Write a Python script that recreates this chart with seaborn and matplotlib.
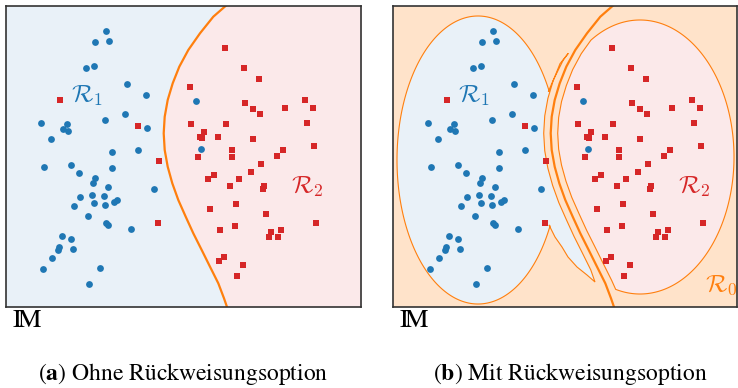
import numpy as np
import pandas as pd
import matplotlib
matplotlib.use('Agg')
import matplotlib.pyplot as plt
import seaborn as sns
from matplotlib.colors import to_rgb

# Punkte (Pixelkoordinaten im Panel, y nach unten)
blue_x = [106.0, 95.3, 108.7, 85.7, 94.3, 127.0, 145.7, 125.3, 104.7, 41.0, 66.7, 63.3,
          68.3, 146.7, 50.7, 138.3, 112.3, 43.7, 71.3, 78.7, 112.0, 95.3, 92.7, 108.0,
          154.3, 80.0, 92.3, 104.0, 74.3, 94.3, 105.3, 113.7, 117.0, 87.7, 106.0, 107.7,
          130.7, 62.3, 70.7, 58.7, 58.0, 72.7, 52.3, 42.7, 99.7, 88.7, 196.0, 201.0]
blue_y = [30.7, 41.7, 41.3, 68.3, 66.0, 84.0, 94.7, 114.3, 120.0, 122.7, 124.0, 129.3,
          131.0, 127.7, 139.3, 149.7, 151.7, 166.7, 165.0, 173.0, 168.0, 178.0, 183.0, 187.3,
          188.7, 197.0, 194.7, 196.3, 206.0, 203.3, 205.3, 202.3, 200.0, 216.3, 222.7, 224.7,
          228.7, 235.7, 239.3, 246.7, 250.0, 248.7, 258.0, 268.7, 268.3, 284.3, 101.0, 148.7]
red_x = [60.0, 137.7, 159.0, 157.7, 225.0, 244.3, 259.3, 190.0, 244.7, 253.3, 260.0, 285.3,
         304.7, 313.3, 307.3, 190.7, 225.7, 204.0, 199.7, 202.3, 217.7, 253.3, 232.3, 232.0,
         198.0, 282.7, 277.0, 314.0, 261.0, 250.7, 214.3, 208.0, 238.7, 229.7, 263.7, 262.7,
         236.3, 210.0, 266.3, 315.7, 220.0, 235.0, 270.7, 281.0, 269.3, 278.0, 224.0, 219.0,
         243.0, 237.3]
red_y = [100.0, 126.0, 160.7, 223.0, 48.3, 67.7, 79.3, 86.7, 102.7, 109.3, 113.7, 107.7,
         100.0, 108.3, 123.3, 124.0, 124.3, 132.0, 137.3, 138.3, 136.7, 139.0, 150.0, 156.7,
         157.3, 149.7, 156.3, 146.0, 163.7, 172.0, 174.7, 179.3, 179.0, 186.3, 186.3, 188.7,
         204.0, 208.7, 213.7, 223.3, 229.7, 226.3, 232.0, 229.7, 237.3, 237.0, 256.7, 260.7,
         264.7, 276.0]

# Entscheidungsgrenze
boundary_y = [5, 16.7, 33.3, 50, 66.7, 83.3, 100, 116.7, 133.3, 150, 166.7, 183.3, 200,
              216.7, 233.3, 250, 266.7, 283.3, 298.3, 307]
boundary_x = [226.7, 213.3, 200, 188.3, 179.3, 172.7, 167.7, 164.7, 163.7, 164.7, 167.7,
              172.3, 178.3, 185.7, 193.3, 201.7, 210, 218.3, 224, 227]

# Regionen mit Rückweisung
r1_center, r1_radii, r1_arc = (91, 160), (81, 144), (-28.6, -332.8)
r2_center, r2_radii = (253, 157), (94, 137)
tail_bottom = [(162, 225), (168, 237), (175, 247), (181, 257), (190, 267), (200, 275), (208, 282)]
tail_top = [(161.3, 91.7), (166.3, 80), (171.3, 70), (176.3, 60), (181.3, 53.3)]

blue, red, orange = '#1f77b4', '#d62728', '#ff7f0e'


def tint(c, a):
    return tuple(1 - a + a * np.array(to_rgb(c)))


df = pd.concat([
    pd.DataFrame({'x': blue_x, 'y': blue_y, 'klasse': '1'}),
    pd.DataFrame({'x': red_x, 'y': red_y, 'klasse': '2'}),
])

sns.set_theme(style='white')
plt.rcParams['font.family'] = ['DejaVu Sans']

fig = plt.figure(figsize=(7.38, 3.88), dpi=100)
top, bottom = 5.5, 307
ax_a = fig.add_axes([6 / 738, (388 - bottom) / 388, 355 / 738, (bottom - top) / 388])
ax_b = fig.add_axes([393 / 738, (388 - bottom) / 388, 344 / 738, (bottom - top) / 388])

bx = np.array(boundary_x)
by = np.array(boundary_y)

# (a) ohne Rückweisung
ax_a.fill_betweenx(by, 0, bx, color=tint(blue, 0.1), lw=0)
ax_a.fill_betweenx(by, bx, 400, color=tint(red, 0.1), lw=0)
ax_a.plot(bx, by, color=orange, lw=1.6)

# (b) mit Rückweisung
ax_b.set_facecolor(tint(orange, 0.22))
dxdy = np.gradient(bx, by)
norm = np.sqrt(1 + dxdy ** 2)
nx, ny = 1 / norm, -dxdy / norm
thin1_x, thin1_y = bx - 7 * nx, by - 7 * ny
thin2_x, thin2_y = bx + 7 * nx, by + 7 * ny

t = np.radians(np.linspace(r1_arc[0], r1_arc[1], 300))
ex = r1_center[0] + r1_radii[0] * np.cos(t)
ey = r1_center[1] + r1_radii[1] * np.sin(t)
m = (thin1_y > tail_top[-1][1]) & (thin1_y < tail_bottom[-1][1])
poly_x = np.concatenate([ex, [p[0] for p in tail_bottom], thin1_x[m][::-1], [p[0] for p in tail_top][::-1]])
poly_y = np.concatenate([ey, [p[1] for p in tail_bottom], thin1_y[m][::-1], [p[1] for p in tail_top][::-1]])
ax_b.fill(poly_x, poly_y, facecolor=tint(blue, 0.1), edgecolor=orange, lw=0.8)

t = np.radians(np.linspace(-180, 180, 721))
ex = r2_center[0] + r2_radii[0] * np.cos(t)
ey = r2_center[1] + r2_radii[1] * np.sin(t)
keep = ex > np.interp(ey, thin2_y, thin2_x)
inside = ((thin2_x - r2_center[0]) / r2_radii[0]) ** 2 + ((thin2_y - r2_center[1]) / r2_radii[1]) ** 2 < 1
poly_x = np.concatenate([ex[keep], thin2_x[inside][::-1]])
poly_y = np.concatenate([ey[keep], thin2_y[inside][::-1]])
ax_b.fill(poly_x, poly_y, facecolor=tint(red, 0.1), edgecolor=orange, lw=0.8)
ax_b.plot(bx, by, color=orange, lw=1.6)

for ax in (ax_a, ax_b):
    sns.scatterplot(data=df[df.klasse == '1'], x='x', y='y', color=blue, marker='o',
                    s=24, linewidth=0, ax=ax, zorder=3)
    sns.scatterplot(data=df[df.klasse == '2'], x='x', y='y', color=red, marker='s',
                    s=16, linewidth=0, ax=ax, zorder=3)
    ax.set(xlabel='', ylabel='', xticks=[], yticks=[])
    ax.set_ylim(bottom, top)
    for sp in ax.spines.values():
        sp.set_color('#333333')
        sp.set_linewidth(1.2)
    ax.text(87, 96, r'$\mathcal{R}_1$', color=blue, fontsize=18, ha='center', va='center',
            math_fontfamily='cm', zorder=4)
    ax.text(307, 187, r'$\mathcal{R}_2$', color=red, fontsize=18, ha='center', va='center',
            math_fontfamily='cm', zorder=4)
ax_a.set_xlim(6, 361)
ax_b.set_xlim(6, 350)
ax_b.text(334, 285, r'$\mathcal{R}_0$', color=orange, fontsize=18, ha='center', va='center',
          math_fontfamily='cm', zorder=4)

for x0 in (27, 414):
    fig.text(x0 / 738, 1 - 320 / 388, r'$\mathrm{I\!M}$', fontsize=19, ha='center', va='center',
             math_fontfamily='stix', color='black')

fig.text(183 / 738, 1 - 374 / 388, r'($\mathbf{a}$) Ohne Rückweisungsoption', family='STIXGeneral',
         math_fontfamily='stix', fontsize=17, ha='center', va='center', color='black')
fig.text(570 / 738, 1 - 374 / 388, r'($\mathbf{b}$) Mit Rückweisungsoption', family='STIXGeneral',
         math_fontfamily='stix', fontsize=17, ha='center', va='center', color='black')

fig.savefig('out.png', dpi=100)
